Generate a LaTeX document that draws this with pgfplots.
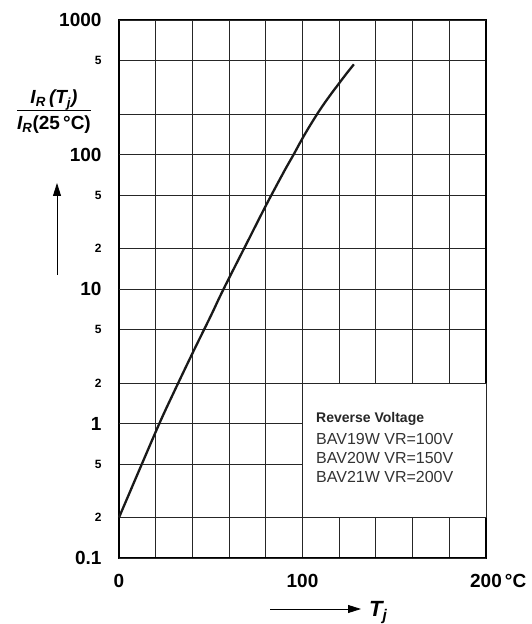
\documentclass[border=0pt]{standalone}
\usepackage{fontspec}
\setmainfont{Liberation Sans}
\usepackage{pgfplots}
\pgfplotsset{compat=1.18}
\usetikzlibrary{arrows.meta}
\begin{document}
\begin{tikzpicture}[x=1pt,y=1pt]
\useasboundingbox (0,0) rectangle (531,624);
\begin{axis}[
  at={(119pt,66pt)}, anchor=south west,
  scale only axis, width=367pt, height=538pt,
  ymode=log, log basis y=10,
  xmin=0, xmax=200, ymin=0.1, ymax=1000,
  axis line style={line width=1.6pt, black},
  major tick length=0pt, minor tick length=0pt,
  xtick={0,20,...,200},
  xticklabels={0,,,,,100,,,,,200\rlap{\,°C}},
  xticklabel style={font=\fontsize{19}{19}\selectfont\bfseries, yshift=-13pt},
  ytick={0.2,0.5,2,5,20,50,200,500},
  yticklabels={2,5,2,5,2,5,,5},
  yticklabel style={font=\fontsize{12}{12}\selectfont\bfseries, xshift=-14pt},
  extra y ticks={0.1,1,10,100,1000},
  extra y tick labels={0.1,1,10,100,1000},
  extra y tick style={
    grid style={line width=1.5pt, black},
    yticklabel style={font=\fontsize{19}{19}\selectfont\bfseries}},
  grid=major,
  major grid style={line width=0.9pt, black!85},
  clip=false,
]
\addplot[line width=2.3pt, black!90, smooth, tension=0.6] coordinates {
  (0,0.2) (10,0.417) (22,1) (30,1.72) (40,3.32) (50,6.3) (57,10) (70,22.4)
  (80,41.6) (90,75) (95,99) (100,132) (105,172) (110,220) (115,275)
  (120,339) (124,400) (128,468)
};
\fill[white] (axis cs:100,0.2) rectangle (axis cs:200,2);
\draw[line width=0.9pt, black!85] (axis cs:100,0.2) rectangle (axis cs:200,2);
\end{axis}
% y label fraction
\node[font=\fontsize{19}{22}\selectfont\bfseries, inner sep=0pt] at (54,512) {%
  \begin{tabular}{@{}c@{}}
  \itshape I\textsubscript{R}\,(T\textsubscript{j})\\[0pt]
  \noalign{\hrule height 1pt}
  \rule{0pt}{18pt}\itshape I\textsubscript{R}\upshape(25\,°C)
  \end{tabular}};
\draw[line width=0.8pt, -{Triangle[length=13pt,width=8pt]}] (57,349) -- (57,441);
\draw[line width=0.8pt, -{Triangle[length=13pt,width=8pt]}] (270,15) -- (361,15);
\node[anchor=base west, inner sep=0pt, font=\fontsize{22}{22}\selectfont\bfseries\itshape] at (369,8) {T\textsubscript{j}};
% legend text
\node[anchor=base west, inner sep=0pt, font=\fontsize{14}{14}\selectfont\bfseries, text=black!85] at (316,201) {Reverse Voltage};
\node[anchor=base west, inner sep=0pt, font=\fontsize{16}{16}\selectfont, text=black!80] at (316,179) {BAV19W VR=100V};
\node[anchor=base west, inner sep=0pt, font=\fontsize{16}{16}\selectfont, text=black!80] at (316,160) {BAV20W VR=150V};
\node[anchor=base west, inner sep=0pt, font=\fontsize{16}{16}\selectfont, text=black!80] at (316,141) {BAV21W VR=200V};
\end{tikzpicture}
\end{document}
